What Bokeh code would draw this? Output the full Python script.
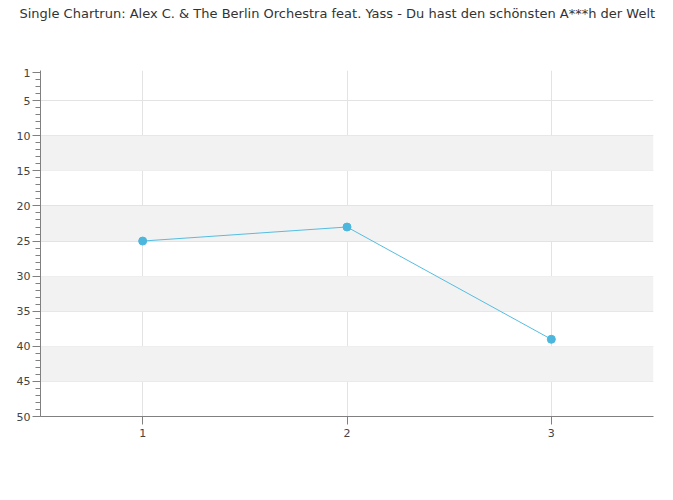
from bokeh.plotting import figure
from bokeh.models import Range1d, FixedTicker, BoxAnnotation, Title
from bokeh.embed import file_html
from bokeh.resources import INLINE

weeks = [1, 2, 3]
positions = [25, 23, 39]
y_ticks = [1, 5, 10, 15, 20, 25, 30, 35, 40, 45, 50]
bands = [(10, 15), (20, 25), (30, 35), (40, 45)]
title_text = "Single Chartrun: Alex C. & The Berlin Orchestra feat. Yass - Du hast den schönsten A***h der Welt"

p = figure(width=673, height=500, output_backend="svg", toolbar_location=None,
           x_range=Range1d(0.5, 3.5), y_range=Range1d(50, 0.7),
           min_border_left=40, min_border_right=20, min_border_top=70, min_border_bottom=84)
p.outline_line_color = None
p.background_fill_color = "white"
p.border_fill_color = "white"

# spacer panel between the frame and the title
p.add_layout(Title(text=" ", text_font="DejaVu Sans", text_font_size="13px", standoff=26), "above")

p.title = Title(text=title_text, align="left", vertical_align="top", offset=-21,
                text_font="DejaVu Sans", text_font_size="13px",
                text_color="#333333", text_font_style="normal", standoff=10)

for lo, hi in bands:
    p.add_layout(BoxAnnotation(bottom=lo, top=hi, fill_color="#f2f2f2", fill_alpha=1,
                               line_color=None, level="underlay"))

p.yaxis.ticker = FixedTicker(ticks=y_ticks, minor_ticks=list(range(1, 51)))
p.xaxis.ticker = FixedTicker(ticks=weeks)

for ax in (p.xaxis[0], p.yaxis[0]):
    ax.axis_line_color = "#808080"
    ax.major_tick_line_color = "#808080"
    ax.minor_tick_line_color = "#808080"
    ax.major_label_text_font = "DejaVu Sans"
    ax.major_label_text_font_size = "11px"
    ax.major_label_text_color = "#444444"

p.yaxis.major_tick_in = 0
p.yaxis.major_tick_out = 8
p.yaxis.minor_tick_in = 0
p.yaxis.minor_tick_out = 5
p.yaxis.major_label_standoff = 2
p.xaxis.major_tick_in = 0
p.xaxis.major_tick_out = 8
p.xaxis.minor_tick_line_color = None
p.xaxis.major_label_standoff = 4

p.grid.grid_line_color = "#e3e3e3"
p.grid.grid_line_width = 1
p.xgrid.ticker = FixedTicker(ticks=weeks)
p.ygrid.ticker = FixedTicker(ticks=y_ticks[1:])

p.line(weeks, positions, line_color="#55bde0", line_width=1)
p.scatter(weeks, positions, marker="circle", size=8, fill_color="#4db6dc", line_color="#4db6dc")

open("out.html", "w").write(file_html(p, INLINE))
